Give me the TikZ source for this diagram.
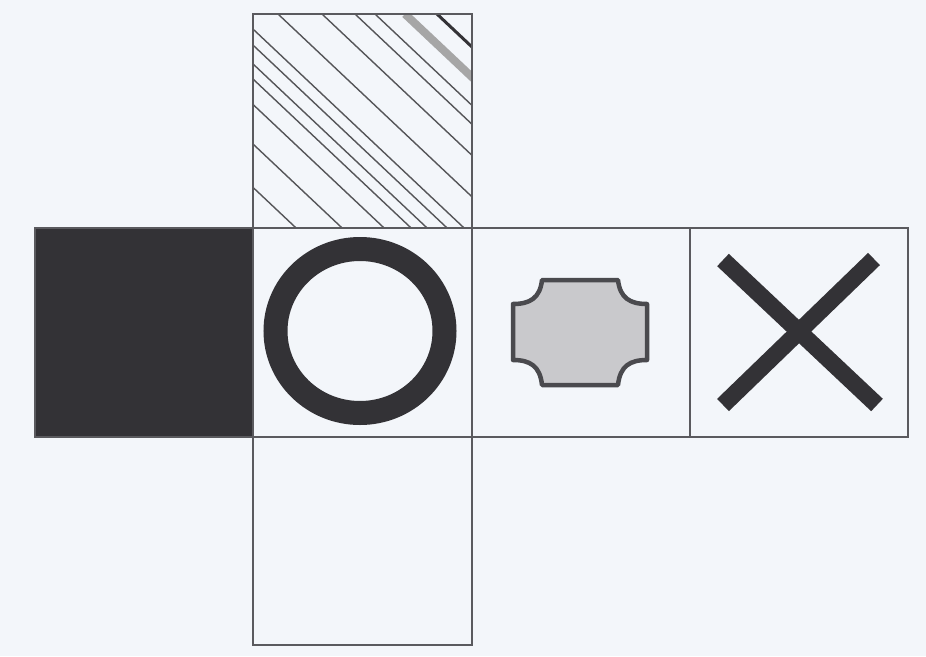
\documentclass[tikz,border=0pt]{standalone}
\definecolor{bg}{HTML}{F3F6FA}
\definecolor{edge}{HTML}{5A5A5E}
\definecolor{ink}{HTML}{333236}
\definecolor{shapefill}{HTML}{C9C9CC}
\definecolor{shapeline}{HTML}{4A4A4E}
\definecolor{hatch}{HTML}{555558}
\begin{document}
\begin{tikzpicture}[x=1pt,y=-1pt,
  face/.style={draw=edge,line width=1.6pt},
  hline/.style={draw=hatch,line width=1.4pt}]
\fill[bg] (0,0) rectangle (926,656);
\useasboundingbox (0,0) rectangle (926,656);
% faces
\coordinate (T1) at (253,14);  \coordinate (T2) at (472,228);
\coordinate (L1) at (35,228);  \coordinate (L2) at (253,437);
\coordinate (C1) at (253,228); \coordinate (C2) at (472,437);
\coordinate (S1) at (472,228); \coordinate (S2) at (690,437);
\coordinate (X1) at (690,228); \coordinate (X2) at (908,437);
\coordinate (B1) at (253,437); \coordinate (B2) at (472,645);
% hatching
\begin{scope}
\clip (T1) rectangle (T2);
\foreach \d in {-184,-138,-96,-69,-53,-33,-16,25,69,102,122}{
  \draw[hline] (253+\d,14) -- ++(260,245);
}
\draw[draw=gray!70,line width=8pt] (253+152,14) -- ++(260,245);
\draw[draw=ink,line width=3pt] (253+184,14) -- ++(260,245);
\end{scope}
\draw[face] (T1) rectangle (T2);
% black face
\fill[ink] (L1) rectangle (L2);
\draw[face] (L1) rectangle (L2);
% circle face
\draw[face] (C1) rectangle (C2);
\draw[ink,line width=24pt] (360,331) ellipse [x radius=84.5, y radius=82];
% shape face
\draw[face] (S1) rectangle (S2);
\draw[shapeline,fill=shapefill,line width=4.5pt,line join=round]
  (542,280) -- (618,280)
  .. controls (620,298) and (630,304) .. (647,304)
  -- (647,360)
  .. controls (630,360) and (620,366) .. (618,385)
  -- (542,385)
  .. controls (540,366) and (530,360) .. (513,360)
  -- (513,304)
  .. controls (530,304) and (540,298) .. (542,280) -- cycle;
% X face
\draw[face] (X1) rectangle (X2);
\draw[ink,line width=17pt] (723,260) -- (877,405);
\draw[ink,line width=17pt] (874,259) -- (723,405);
% bottom face
\draw[face] (B1) rectangle (B2);
\end{tikzpicture}
\end{document}
